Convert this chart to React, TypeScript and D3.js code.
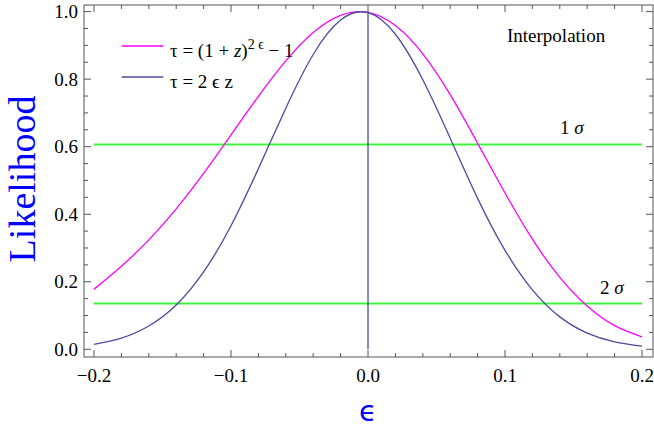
import React from "react";
import * as d3 from "d3";

// ---- data ----
const EPS = [-0.2, -0.18, -0.16, -0.14, -0.12, -0.1, -0.08, -0.06, -0.04, -0.02, 0, 0.02, 0.04, 0.06, 0.08, 0.1, 0.12, 0.14, 0.16, 0.18, 0.2];
const LIKE_POWER = [0.178, 0.246, 0.324, 0.416, 0.521, 0.635, 0.749, 0.854, 0.938, 0.989, 0.998, 0.959, 0.875, 0.754, 0.610, 0.463, 0.326, 0.213, 0.128, 0.070, 0.037];
const LIKE_LINEAR = [0.0145, 0.033, 0.069, 0.131, 0.229, 0.366, 0.535, 0.714, 0.873, 0.975, 0.997, 0.933, 0.798, 0.625, 0.447, 0.293, 0.176, 0.096, 0.048, 0.022, 0.0093];
const SIGMA_LEVELS = [0.6065, 0.1353];
const SIGMA_LABELS = ["1", "2"];
const X_TICKS = [-0.2, -0.1, 0, 0.1, 0.2];
const Y_TICKS = [0, 0.2, 0.4, 0.6, 0.8, 1.0];

const W = 654, H = 439;
const FRAME = { l: 84, r: 653, t: 5, b: 357 };
const MAGENTA = "#ff00ff";
const BLUE = "#4b4ba0";
const GREEN = "#3cf53c";
const FRAMEC = "#555555";
const SERIF = "'Liberation Serif', 'Times New Roman', serif";

export default function App() {
  const x = d3.scaleLinear().domain([-0.2, 0.2]).range([94, 642]);
  const y = d3.scaleLinear().domain([0, 1]).range([349.3, 11.6]);

  const line = d3.line<number>()
    .x((_, i) => x(EPS[i]))
    .y((d) => y(d))
    .curve(d3.curveNatural);

  const xMinor = d3.range(-0.2, 0.2001, 0.02);
  const yMinor = d3.range(0, 1.0001, 0.05);
  const fmt = (v: number) => (v < 0 ? "\u2212" : "") + Math.abs(v).toFixed(1);
  const isMajorX = (v: number) => Math.abs(Math.round(v * 10) - v * 10) < 1e-6;
  const isMajorY = (v: number) => Math.abs(Math.round(v * 5) - v * 5) < 1e-6;

  return (
    <svg width={W} height={H} style={{ position: "absolute", left: 0, top: 0, background: "#fff" }}>
      {/* sigma lines */}
      {SIGMA_LEVELS.map((s, i) => (
        <line key={"s" + i} x1={x(-0.2)} x2={x(0.2)} y1={y(s)} y2={y(s)} stroke={GREEN} strokeWidth={2} />
      ))}
      {/* curves */}
      <path d={line(LIKE_POWER) || ""} fill="none" stroke={MAGENTA} strokeWidth={1.3} />
      <path d={line(LIKE_LINEAR) || ""} fill="none" stroke={BLUE} strokeWidth={1.3} />
      <line x1={x(0)} x2={x(0)} y1={y(0)} y2={y(1)} stroke={BLUE} strokeWidth={1.3} />

      {/* frame */}
      <rect x={FRAME.l} y={FRAME.t} width={FRAME.r - FRAME.l} height={FRAME.b - FRAME.t} fill="none" stroke={FRAMEC} strokeWidth={1} />
      {xMinor.map((v, i) => {
        const len = isMajorX(v) ? 7 : 4;
        return (
          <g key={"xt" + i} stroke={FRAMEC} strokeWidth={1}>
            <line x1={x(v)} x2={x(v)} y1={FRAME.b} y2={FRAME.b - len} />
            <line x1={x(v)} x2={x(v)} y1={FRAME.t} y2={FRAME.t + len} />
          </g>
        );
      })}
      {yMinor.map((v, i) => {
        const len = isMajorY(v) ? 7 : 4;
        return (
          <g key={"yt" + i} stroke={FRAMEC} strokeWidth={1}>
            <line x1={FRAME.l} x2={FRAME.l + len} y1={y(v)} y2={y(v)} />
            <line x1={FRAME.r} x2={FRAME.r - len} y1={y(v)} y2={y(v)} />
          </g>
        );
      })}
      {X_TICKS.map((v, i) => (
        <text key={"xl" + i} x={x(v)} y={382} textAnchor="middle" fontFamily={SERIF} fontSize={19} fill="#000">{fmt(v)}</text>
      ))}
      {Y_TICKS.map((v, i) => (
        <text key={"yl" + i} x={78} y={y(v) + 6.5} textAnchor="end" fontFamily={SERIF} fontSize={19} fill="#000">{fmt(v)}</text>
      ))}

      {/* axis labels */}
      <text transform="translate(35,179) rotate(-90)" textAnchor="middle" fontFamily={SERIF} fontSize={38} fill="#0000ff">Likelihood</text>
      <text x={368} y={421} textAnchor="middle" fontFamily="'DejaVu Sans', sans-serif" fontSize={29} fill="#0000ff">ϵ</text>

      {/* legend */}
      <line x1={121.7} x2={163.3} y1={46} y2={46} stroke={MAGENTA} strokeWidth={1.3} />
      <text x={170} y={57} fontFamily={SERIF} fontSize={19} fill="#000">
        <tspan>τ = (1 + </tspan><tspan fontStyle="italic">z</tspan><tspan>)</tspan>
        <tspan dy={-8} fontSize={14}>2 ϵ</tspan>
        <tspan dy={8}> − 1</tspan>
      </text>
      <line x1={121.7} x2={163.3} y1={77} y2={77} stroke={BLUE} strokeWidth={1.3} />
      <text x={170} y={88} fontFamily={SERIF} fontSize={19} fill="#000">τ = 2 ϵ z</text>

      {/* annotations */}
      <text x={507} y={42} fontFamily={SERIF} fontSize={19} fill="#000">Interpolation</text>
      {SIGMA_LEVELS.map((s, i) => (
        <text key={"sl" + i} x={i === 0 ? 560 : 600} y={i === 0 ? 134 : 294} fontFamily={SERIF} fontSize={19} fill="#000">
          {SIGMA_LABELS[i]} <tspan fontStyle="italic">σ</tspan>
        </text>
      ))}
    </svg>
  );
}
